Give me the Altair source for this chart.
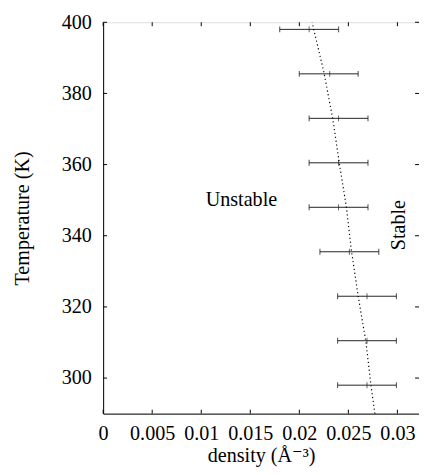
import altair as alt
import pandas as pd

# error-bar data (temperature K, density centre / low / high in A^-3)
temps = [298, 310.5, 323, 335.5, 348, 360.5, 373, 385.5, 398]
dens_mid = [0.0269, 0.0269, 0.0269, 0.0251, 0.0240, 0.0240, 0.0240, 0.0231, 0.0210]
dens_lo = [0.0239, 0.0239, 0.0239, 0.0221, 0.0210, 0.0210, 0.0210, 0.0200, 0.0180]
dens_hi = [0.0299, 0.0299, 0.0299, 0.0281, 0.0270, 0.0270, 0.0270, 0.0260, 0.0240]

# dotted boundary curve
curve_t = [290, 298, 310, 323, 336, 348, 360, 373, 386, 400]
curve_d = [0.0277, 0.0273, 0.0268, 0.0260, 0.0253, 0.0248, 0.0241, 0.0234, 0.0225, 0.0213]

x_ticks = [0, 0.005, 0.01, 0.015, 0.02, 0.025, 0.03]
y_ticks = [300, 320, 340, 360, 380, 400]

label_text = ["Unstable"]
label_x = [0.0141]
label_t = [350]
stable_text = ["Stable"]
stable_x = [0.0302]
stable_t = [343]

W, H = 322, 399
FONT = "'Liberation Serif', 'Times New Roman', Times, 'DejaVu Serif', serif"
FS = 20.5

bars = pd.DataFrame({"T": temps, "mid": dens_mid, "lo": dens_lo, "hi": dens_hi})
curve = pd.DataFrame({"T": curve_t, "d": curve_d})
xt = pd.DataFrame({"v": x_ticks})
yt = pd.DataFrame({"v": y_ticks})

xs = alt.Scale(domain=[0, 0.0322], nice=False, zero=False)
ys = alt.Scale(domain=[290, 400], nice=False, zero=False)

xaxis = alt.Axis(values=x_ticks, format="~g", ticks=False, tickSize=0, grid=False,
                 labelPadding=10, labelFontSize=FS, labelFont=FONT, labelColor="black",
                 title="density (Å⁻³)", titleFont=FONT, titleFontSize=FS,
                 titleFontWeight="normal", titleColor="black", titlePadding=2,
                 domainColor="black", labelFlush=False)
yaxis = alt.Axis(values=y_ticks, ticks=False, tickSize=0, grid=False,
                 labelPadding=12, labelFontSize=FS, labelFont=FONT, labelColor="black",
                 title="Temperature (K)", titleFont=FONT, titleFontSize=FS,
                 titleFontWeight="normal", titleColor="black", titlePadding=29,
                 domainColor="black")

base = alt.Chart(bars)

hline = base.mark_rule(color="#222", strokeWidth=1).encode(
    x=alt.X("lo:Q", scale=xs, axis=xaxis), x2="hi:Q",
    y=alt.Y("T:Q", scale=ys, axis=yaxis))
cap_lo = base.mark_tick(color="#222", orient="vertical", size=6, thickness=1.2).encode(
    x=alt.X("lo:Q", scale=xs), y=alt.Y("T:Q", scale=ys))
cap_hi = base.mark_tick(color="#222", orient="vertical", size=6, thickness=1.2).encode(
    x=alt.X("hi:Q", scale=xs), y=alt.Y("T:Q", scale=ys))
cap_mid = base.mark_tick(color="#222", orient="vertical", size=6, thickness=1).encode(
    x=alt.X("mid:Q", scale=xs), y=alt.Y("T:Q", scale=ys))

line = alt.Chart(curve).mark_line(color="black", strokeWidth=1.2, strokeDash=[1.2, 2.8]).encode(
    x=alt.X("d:Q", scale=xs), y=alt.Y("T:Q", scale=ys), order="T:Q")

# inward ticks on all four sides
xb = alt.Chart(xt).mark_rule(color="black").encode(
    x=alt.X("v:Q", scale=xs), y=alt.value(H), y2=alt.value(H - 4))
xtop = alt.Chart(xt).mark_rule(color="black").encode(
    x=alt.X("v:Q", scale=xs), y=alt.value(0), y2=alt.value(4))
yl = alt.Chart(yt).mark_rule(color="black").encode(
    y=alt.Y("v:Q", scale=ys), x=alt.value(0), x2=alt.value(4))
yr = alt.Chart(yt).mark_rule(color="black").encode(
    y=alt.Y("v:Q", scale=ys), x=alt.value(W - 4), x2=alt.value(W))

t1 = alt.Chart(pd.DataFrame({"t": label_text, "x": label_x, "T": label_t})).mark_text(
    font=FONT, fontSize=FS, color="black").encode(
    x=alt.X("x:Q", scale=xs), y=alt.Y("T:Q", scale=ys), text="t:N")
t2 = alt.Chart(pd.DataFrame({"t": stable_text, "x": stable_x, "T": stable_t})).mark_text(
    font=FONT, fontSize=FS, color="black", angle=270).encode(
    x=alt.X("x:Q", scale=xs), y=alt.Y("T:Q", scale=ys), text="t:N")

chart = alt.layer(hline, cap_lo, cap_hi, cap_mid, line, xb, xtop, yl, yr, t1, t2).properties(
    width=W, height=H,
    autosize=alt.AutoSizeParams(type="none"),
    padding={"left": 97, "top": 10, "right": 0, "bottom": 58},
).configure_view(stroke="black", strokeWidth=1).configure(background="white")

chart.save("out.html", embed_options={"renderer": "svg", "actions": False})
